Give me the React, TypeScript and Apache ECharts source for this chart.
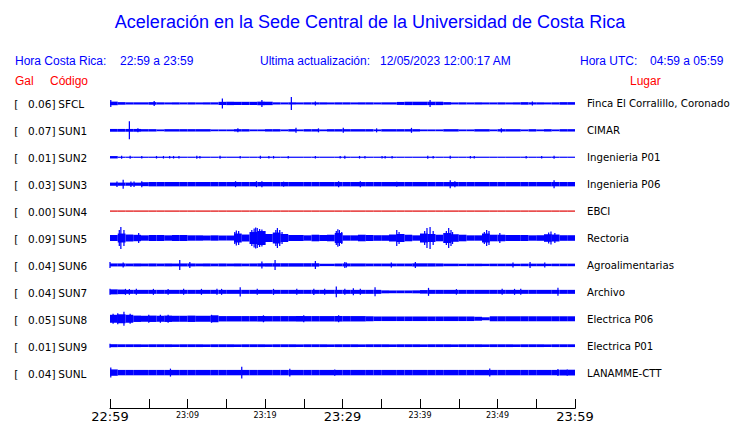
import React, { useEffect, useRef } from "react";
import * as echarts from "echarts";

// ---------- data ----------
const stationCodes = ["SFCL", "SUN1", "SUN2", "SUN3", "SUN4", "SUN5", "SUN6", "SUN7", "SUN8", "SUN9", "SUNL"];
const peakGal = [0.06, 0.07, 0.01, 0.03, 0.0, 0.09, 0.04, 0.04, 0.05, 0.01, 0.04];
const places = [
  "Finca El Corralillo, Coronado",
  "CIMAR",
  "Ingenieria P01",
  "Ingenieria P06",
  "EBCI",
  "Rectoria",
  "Agroalimentarias",
  "Archivo",
  "Electrica P06",
  "Electrica P01",
  "LANAMME-CTT",
];
const traceColors = ["#0000ff", "#0000ff", "#0000ff", "#0000ff", "#e00000", "#0000ff", "#0000ff", "#0000ff", "#0000ff", "#0000ff", "#0000ff"];

// minute labels of the time axis (minutes after 22:59)
const majorTickMinutes = [0, 30, 60];
const majorTickLabels = ["22:59", "23:29", "23:59"];
const minorTickMinutes = [10, 20, 40, 50];
const minorTickLabels = ["23:09", "23:19", "23:39", "23:49"];

// per-minute envelope (half amplitude, trace units) and isolated peaks [minute, half amplitude]
const envSFCL = [1.8, 1.3, 1.1, 1.1, 1.1, 1.3, 1.1, 1.0, 1.1, 1.0, 1.1, 1.0, 1.1, 1.1, 1.6, 1.7, 1.6, 1.6, 1.6, 1.8, 1.7, 1.1, 1.0, 1.1, 1.0, 1.1, 1.1, 1.1, 1.0, 1.1, 1.1, 1.0, 1.1, 1.1, 1.0, 1.1, 1.1, 1.5, 1.7, 1.7, 1.7, 1.7, 1.7, 1.3, 1.0, 1.1, 1.0, 1.1, 1.0, 1.0, 1.1, 1.0, 1.1, 1.3, 1.1, 1.1, 1.0, 1.1, 1.3, 1.3];
const peaksSFCL = [[0.1, 3.5], [5.7, 2.5], [14.5, 5], [19.6, 3.5], [23.4, 6.5], [26.5, 2], [41.3, 3.5], [54.5, 2]];

const envSUN1 = [1.4, 1.4, 1.4, 1.4, 1.2, 1.2, 0.9, 1.2, 1.2, 1.2, 1.2, 1.2, 1.2, 0.9, 0.9, 0.9, 1.2, 1.2, 0.9, 0.9, 1.2, 1.2, 0.9, 1.2, 0.9, 1.2, 1.2, 0.9, 1.2, 1.2, 1.2, 1.2, 1.2, 1.2, 0.9, 1.2, 1.2, 1.2, 1.2, 1.2, 0.9, 0.9, 0.9, 1.2, 1.2, 0.9, 0.9, 1.2, 1.2, 0.9, 1.2, 1.2, 1.2, 0.9, 1.2, 0.9, 1.2, 0.9, 1.2, 1.2];
const peaksSUN1 = [[2.5, 9], [3.6, 2], [16.5, 2], [24, 2.5], [26.9, 2], [30.1, 2.5], [34.4, 2], [38.9, 2.5], [50.5, 2.2]];

const envSUN2 = [1.2, 0.6, 0.6, 0.6, 0.6, 0.6, 0.6, 0.6, 0.6, 0.6, 0.6, 0.6, 0.6, 0.6, 0.6, 0.6, 0.6, 0.6, 0.6, 0.6, 0.6, 0.6, 0.6, 0.6, 0.6, 0.6, 0.6, 0.6, 0.6, 0.6, 0.6, 0.6, 0.6, 0.6, 0.6, 0.6, 0.6, 0.6, 0.6, 0.6, 0.6, 0.6, 0.6, 0.6, 0.6, 0.6, 0.6, 0.6, 0.6, 0.6, 0.6, 0.6, 0.6, 0.6, 0.6, 0.6, 0.6, 0.6, 0.6, 0.6];
const peaksSUN2 = [[1.5, 1.6], [2.6, 1.6], [4.1, 1.3], [6.0, 1.3], [6.9, 1.3], [7.7, 1.3], [8.2, 1.3], [8.9, 1.3], [11.2, 1.4], [11.6, 1.3], [14.2, 1.4], [16.8, 1.3], [19.4, 1.5], [20.5, 1.3], [21.1, 1.3], [23.0, 1.3], [26.5, 1.3], [29.7, 1.3], [30.3, 1.5], [32.2, 1.3], [32.9, 1.3], [35.1, 1.3], [35.5, 1.3], [36.4, 1.3], [41.0, 1.5], [41.7, 1.3], [43.9, 1.6], [46.5, 1.3], [47.0, 1.3], [53.7, 1.3], [55.7, 1.3], [57.3, 1.5]];

const envSUN3 = [1.6, 1.6, 1.6, 1.6, 2.0, 2.2, 2.2, 2.2, 2.2, 2.2, 2.2, 2.2, 2.2, 2.2, 2.2, 2.2, 2.2, 2.2, 2.2, 2.2, 2.2, 2.2, 2.2, 2.2, 2.2, 2.2, 2.2, 2.2, 2.2, 2.2, 2.2, 2.2, 2.2, 2.2, 2.2, 2.2, 2.2, 2.2, 2.2, 2.2, 2.2, 2.2, 2.2, 2.2, 2.2, 2.2, 2.2, 2.2, 2.2, 2.2, 2.2, 2.2, 2.2, 2.2, 2.2, 2.2, 2.2, 2.2, 2.2, 2.2];
const peaksSUN3 = [[0.9, 2.8], [1.7, 4.5], [2.7, 2.8], [3.1, 2.8], [4.1, 3], [16.2, 3], [18.9, 3], [19.6, 3], [22.4, 2.5], [29.5, 3], [32.3, 3], [37, 2.5], [43.9, 4], [44.5, 3], [57.3, 4]];

const envSUN4 = [0.6, 0.6, 0.6, 0.6, 0.6, 0.6, 0.6, 0.6, 0.6, 0.6, 0.6, 0.6, 0.6, 0.6, 0.6, 0.6, 0.6, 0.6, 0.6, 0.6, 0.6, 0.6, 0.6, 0.6, 0.6, 0.6, 0.6, 0.6, 0.6, 0.6, 0.6, 0.6, 0.6, 0.6, 0.6, 0.6, 0.6, 0.6, 0.6, 0.6, 0.6, 0.6, 0.6, 0.6, 0.6, 0.6, 0.6, 0.6, 0.6, 0.6, 0.6, 0.6, 0.6, 0.6, 0.6, 0.6, 0.6, 0.6, 0.6, 0.6];
const peaksSUN4: number[][] = [];

const envSUN5 = [3, 4.5, 3.5, 3.2, 2.7, 3, 3, 2.7, 3, 3, 2.7, 2.7, 2.5, 2.7, 2.5, 2.5, 4.5, 3.5, 6, 7, 4, 5.5, 4, 3, 3, 2.7, 3.3, 3, 3.3, 5, 2.7, 2.7, 3.3, 3, 2.8, 2.8, 3.5, 4, 3.3, 2.7, 4.5, 4, 3.3, 5, 3.8, 3.3, 2.7, 2.7, 4.5, 3.3, 3.3, 3, 3, 3, 2.7, 2.8, 3.8, 3.5, 2.8, 2.8];
const peaksSUN5 = [[1.2, 8], [1.4, 11], [1.8, 8], [3.7, 5], [16.1, 6], [16.3, 7.5], [16.6, 7], [18.3, 8], [18.6, 9.5], [18.8, 10.5], [19.0, 10], [19.3, 9], [19.6, 8.5], [20.0, 7], [21.4, 8], [21.6, 10], [21.9, 8], [22.2, 6], [29.2, 7], [29.4, 8.8], [29.6, 8], [29.9, 6], [37, 8], [37.3, 6], [40.6, 7], [40.9, 10], [41.3, 11], [41.7, 7], [43.4, 7], [43.7, 10], [44.0, 8], [44.2, 6], [48.3, 6], [48.6, 8], [48.9, 7], [50.3, 5], [56.6, 5.5], [56.9, 6.5], [57.4, 5]];

const envSUN6 = [1.5, 1.5, 1.4, 1.5, 1.4, 1.5, 1.4, 1.5, 1.4, 1.5, 1.5, 1.4, 1.5, 1.4, 1.5, 1.4, 1.5, 1.4, 1.5, 1.6, 1.7, 1.7, 1.7, 1.7, 1.7, 1.7, 1.7, 1.2, 1.2, 1.4, 1.5, 1.5, 1.5, 1.4, 1.4, 1.4, 1.4, 1.4, 1.4, 1.6, 1.6, 1.6, 1.5, 1.3, 1.3, 1.2, 1.3, 1.3, 1.2, 1.3, 1.3, 1.3, 1.2, 1.3, 1.3, 1.3, 1.2, 1.3, 1.3, 1.3];
const peaksSUN6 = [[0, 3], [1.7, 2.5], [9, 5], [10.3, 3], [19.6, 3.5], [21.3, 5], [26.5, 4], [30.3, 3], [30.5, 2.5], [36.3, 2.5], [39.4, 3], [52, 2.5], [54.2, 3], [56.1, 2.5]];

const envSUN7 = [2.5, 2.3, 2.0, 2.0, 2.0, 2.0, 2.0, 2.0, 2.0, 2.0, 2.0, 2.0, 2.0, 2.0, 2.0, 2.0, 2.0, 2.0, 2.0, 2.0, 2.0, 2.0, 2.0, 2.0, 2.0, 2.0, 2.0, 2.0, 2.0, 2.0, 2.0, 2.0, 2.0, 2.0, 2.0, 1.5, 1.4, 1.4, 1.4, 1.5, 1.8, 2.0, 2.0, 2.0, 2.0, 2.0, 2.0, 2.0, 2.0, 2.0, 2.0, 2.0, 2.0, 2.0, 2.0, 2.0, 2.0, 2.0, 2.0, 2.0];
const peaksSUN7 = [[0, 3], [2, 3], [2.5, 2.8], [3.4, 3], [5.6, 3], [7.5, 2.8], [9.5, 3], [11.8, 3], [13.8, 3], [14.4, 3], [16.8, 4.7], [19, 3], [21.1, 3], [24.1, 3], [26.3, 3.2], [27.7, 3], [29.2, 5.3], [30.3, 3], [31.4, 3.5], [32.3, 3], [34.2, 4.5], [41.1, 4], [44.7, 2.8], [50.6, 3], [52.2, 3], [53, 3], [57.8, 4]];

const envSUN8 = [4, 4.5, 4, 3.2, 3.0, 3.2, 3.0, 3.2, 3.0, 3.0, 3.2, 3.0, 3.0, 3.5, 2.7, 2.7, 2.7, 2.7, 2.7, 2.8, 2.7, 2.7, 2.7, 2.7, 2.8, 2.7, 2.7, 2.7, 2.7, 2.8, 2.7, 2.7, 2.7, 2.5, 2.3, 2.3, 2.3, 2.3, 2.3, 2.3, 2.3, 2.3, 2.3, 2.3, 2.3, 2.3, 2.3, 2.0, 1.5, 2.5, 2.5, 2.5, 2.5, 2.5, 2.5, 2.5, 2.5, 2.5, 2.5, 2.5];
const peaksSUN8 = [[0.4, 5], [1, 5.5], [1.8, 7], [2.6, 5], [5, 4], [6.5, 4], [7.5, 4], [13.1, 4], [19.8, 3.5], [25, 3.5], [29.5, 3.5]];

const envSUN9 = [1.5, 1.4, 1.4, 1.4, 1.3, 1.4, 1.4, 1.4, 1.3, 1.4, 1.4, 1.4, 1.3, 1.4, 1.4, 1.4, 1.3, 1.4, 1.4, 1.4, 1.3, 1.4, 1.4, 1.4, 1.3, 1.4, 1.4, 1.4, 1.3, 1.4, 1.4, 1.4, 1.3, 1.4, 1.4, 1.4, 1.3, 1.4, 1.4, 1.4, 1.3, 1.4, 1.4, 1.4, 1.3, 1.4, 1.4, 1.4, 1.3, 1.4, 1.4, 1.4, 1.3, 1.4, 1.4, 1.4, 1.3, 1.4, 1.4, 1.4];
const peaksSUN9 = [[0, 2]];

const envSUNL = [3.2, 2.7, 2.7, 2.7, 2.7, 2.7, 2.7, 2.7, 2.7, 2.7, 2.7, 2.7, 2.7, 2.7, 2.7, 2.7, 2.7, 2.7, 2.7, 2.7, 2.7, 2.7, 2.7, 2.7, 2.7, 2.7, 2.7, 2.7, 2.7, 2.7, 2.7, 2.7, 2.7, 2.7, 2.7, 2.7, 2.7, 2.7, 2.7, 2.7, 2.7, 2.7, 2.7, 2.7, 2.7, 2.7, 2.7, 2.7, 2.7, 2.7, 2.7, 2.7, 2.7, 2.7, 2.7, 2.7, 2.7, 2.7, 2.9, 2.9];
const peaksSUNL = [[0.1, 5], [7.8, 4], [17, 5.8], [23.2, 3.8], [29, 3.2], [49, 4], [57.8, 3.5], [59, 3.2]];

const envelopes = [envSFCL, envSUN1, envSUN2, envSUN3, envSUN4, envSUN5, envSUN6, envSUN7, envSUN8, envSUN9, envSUNL];
const peaks = [peaksSFCL, peaksSUN1, peaksSUN2, peaksSUN3, peaksSUN4, peaksSUN5, peaksSUN6, peaksSUN7, peaksSUN8, peaksSUN9, peaksSUNL];

// ---------- layout ----------
const W = 740;
const H = 423;
const GRID_LEFT = 110;
const GRID_RIGHT = 165;
const GRID_TOP = 76.5;
const GRID_BOTTOM = 13.5;
const ROW_PX = 27; // pixels per trace row
const AMP_PER_ROW = 27; // trace amplitude units per row spacing
const Y_MAX = 1;
const Y_MIN = Y_MAX - (H - GRID_TOP - GRID_BOTTOM) / ROW_PX;

const BLUE = "#0000ff";
const RED = "#ff0000";
const SANS = "'Liberation Sans', Arial, sans-serif";
const DEJAVU = "'DejaVu Sans', sans-serif";

export default function App() {
  const ref = useRef<HTMLDivElement>(null);

  useEffect(() => {
    if (!ref.current) return;
    const chart = echarts.init(ref.current, undefined, { renderer: "svg" });

    const series = stationCodes.map((code, row) => {
      const env = envelopes[row].map((h, i) => [i, i + 1, row, h]);
      const pk = peaks[row].map(([m, h]) => [m - 0.08, m + 0.08, row, h]);
      const color = traceColors[row];
      return {
        type: "custom",
        name: code,
        data: env.concat(pk),
        encode: { x: [0, 1], y: 2 },
        silent: true,
        renderItem: (params: any, api: any) => {
          const m0 = api.value(0);
          const m1 = api.value(1);
          const r = api.value(2);
          const h = api.value(3);
          const p0 = api.coord([m0, -r + h / AMP_PER_ROW]);
          const p1 = api.coord([m1, -r - h / AMP_PER_ROW]);
          return {
            type: "rect",
            shape: { x: p0[0], y: p0[1], width: Math.max(p1[0] - p0[0], 1.1), height: p1[1] - p0[1] },
            style: { fill: color },
          };
        },
      };
    });

    const rowY = (row: number) => GRID_TOP + (Y_MAX + row) * ROW_PX;

    const graphics: any[] = [
      {
        type: "text",
        left: "center",
        top: 13,
        style: { text: "Aceleración en la Sede Central de la Universidad de Costa Rica", fill: BLUE, font: `18px ${SANS}` },
      },
      { type: "text", x: 15, y: 60.5, style: { text: "Hora Costa Rica:", fill: BLUE, font: `12px ${SANS}`, verticalAlign: "middle" } },
      { type: "text", x: 120, y: 60.5, style: { text: "22:59 a 23:59", fill: BLUE, font: `12px ${SANS}`, verticalAlign: "middle" } },
      { type: "text", x: 260, y: 60.5, style: { text: "Ultima actualización:", fill: BLUE, font: `12px ${SANS}`, verticalAlign: "middle" } },
      { type: "text", x: 380, y: 60.5, style: { text: "12/05/2023 12:00:17 AM", fill: BLUE, font: `12px ${SANS}`, verticalAlign: "middle" } },
      { type: "text", x: 580, y: 60.5, style: { text: "Hora UTC:", fill: BLUE, font: `12px ${SANS}`, verticalAlign: "middle" } },
      { type: "text", x: 650, y: 60.5, style: { text: "04:59 a 05:59", fill: BLUE, font: `12px ${SANS}`, verticalAlign: "middle" } },
      { type: "text", x: 15, y: 80.5, style: { text: "Gal", fill: RED, font: `12px ${SANS}`, verticalAlign: "middle" } },
      { type: "text", x: 50, y: 80.5, style: { text: "Código", fill: RED, font: `12px ${SANS}`, verticalAlign: "middle" } },
      { type: "text", x: 630, y: 80.5, style: { text: "Lugar", fill: RED, font: `12px ${SANS}`, verticalAlign: "middle" } },
    ];

    stationCodes.forEach((code, row) => {
      const y = rowY(row);
      graphics.push(
        { type: "text", x: 14.3, y, style: { text: "[", fill: "#000", font: `10.5px ${DEJAVU}`, verticalAlign: "middle" } },
        {
          type: "text",
          x: 55.5,
          y,
          style: { text: `${peakGal[row].toFixed(2)}]`, fill: "#000", font: `10.5px ${DEJAVU}`, verticalAlign: "middle", align: "right" },
        },
        { type: "text", x: 58.3, y, style: { text: code, fill: "#000", font: `10.5px ${DEJAVU}`, verticalAlign: "middle" } },
        { type: "text", x: 587, y, style: { text: places[row], fill: "#000", font: `10.2px ${DEJAVU}`, verticalAlign: "middle" } }
      );
    });

    const labelFor = (v: number) => {
      const mi = majorTickMinutes.indexOf(v);
      if (mi >= 0) return `{big|${majorTickLabels[mi]}}`;
      const ni = minorTickMinutes.indexOf(v);
      if (ni >= 0) return `{small|${minorTickLabels[ni]}}`;
      return "";
    };

    chart.setOption({
      animation: false,
      backgroundColor: "#ffffff",
      grid: { left: GRID_LEFT, right: GRID_RIGHT, top: GRID_TOP, bottom: GRID_BOTTOM, containLabel: false },
      xAxis: {
        type: "value",
        min: 0,
        max: 60,
        interval: 5,
        position: "bottom",
        axisLine: { show: true, onZero: false, lineStyle: { color: "#000", width: 1 } },
        axisTick: { show: true, inside: true, length: 9.5, lineStyle: { color: "#000", width: 1 } },
        splitLine: { show: false },
        axisLabel: {
          show: true,
          interval: 0,
          margin: 1.5,
          showMinLabel: true,
          showMaxLabel: true,
          hideOverlap: false,
          formatter: labelFor,
          rich: {
            big: { fontSize: 13, fontFamily: DEJAVU, color: "#000", lineHeight: 13 },
            small: { fontSize: 8, fontFamily: DEJAVU, color: "#000", lineHeight: 8, padding: [2.5, 0, 0, 0] },
          },
        },
      },
      yAxis: { type: "value", min: Y_MIN, max: Y_MAX, show: false, splitLine: { show: false } },
      graphic: graphics,
      series,
    });

    return () => chart.dispose();
  }, []);

  return <div ref={ref} style={{ position: "absolute", left: 0, top: 0, width: W, height: H }} />;
}
